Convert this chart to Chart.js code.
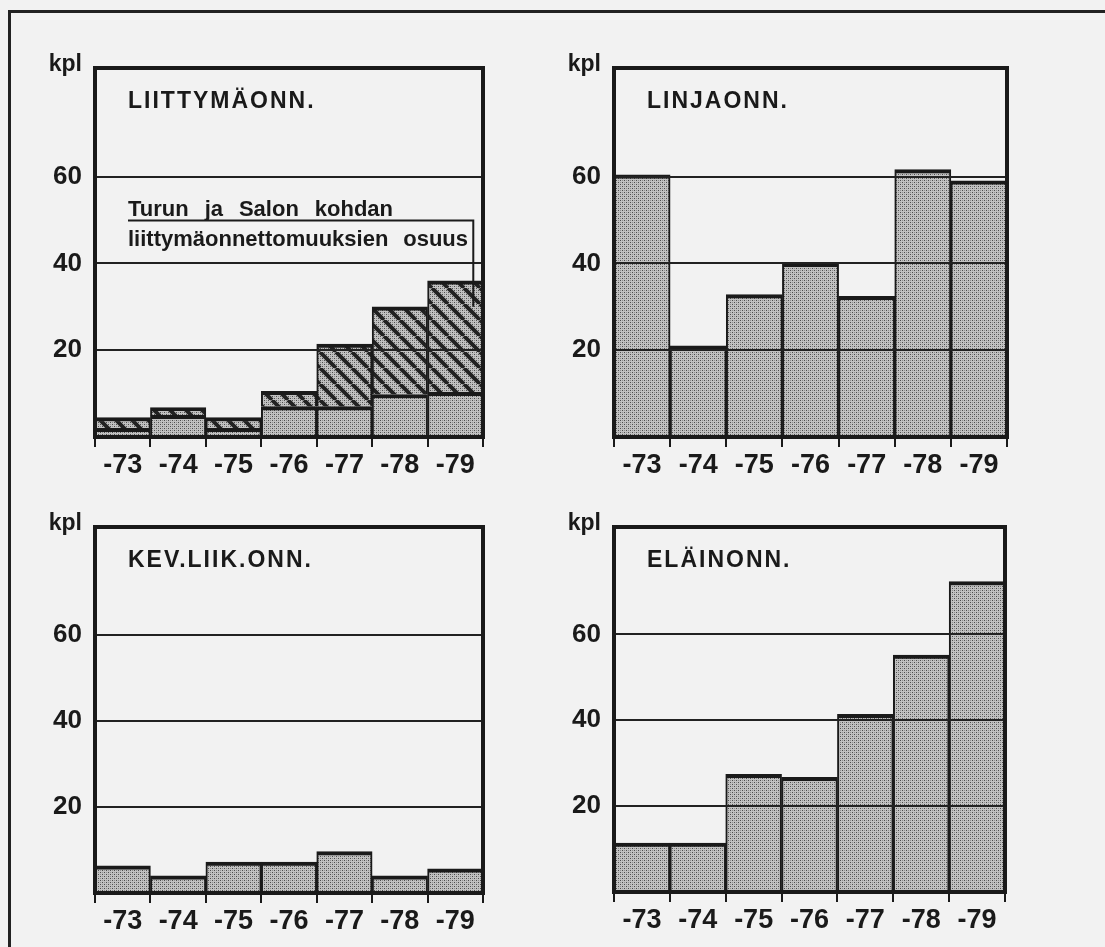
<!DOCTYPE html>
<html>
<head>
<meta charset="utf-8">
<script src="https://cdn.jsdelivr.net/npm/chart.js@4/dist/chart.umd.min.js"></script>
<style>
  html, body { margin: 0; padding: 0; background: #f2f2f2; }
  #page { position: relative; width: 1105px; height: 947px; overflow: hidden; }
  #frame { position: absolute; left: 8px; top: 10px; width: 1110px; height: 960px;
           border-top: 3px solid #222; border-left: 3px solid #222; }
  canvas { position: absolute; }
</style>
</head>
<body>
<div id="page">
  <div id="frame"></div>
  <canvas id="c1" width="540" height="480" style="left:0;top:0"></canvas>
  <canvas id="c2" width="565" height="480" style="left:540px;top:0"></canvas>
  <canvas id="c3" width="540" height="487" style="left:0;top:460px"></canvas>
  <canvas id="c4" width="565" height="487" style="left:540px;top:460px"></canvas>
</div>
<script>
const years = ['-73', '-74', '-75', '-76', '-77', '-78', '-79'];
const yTicks = [20, 40, 60];

// liittymäonnettomuudet: muut + Turun ja Salon kohdan osuus (pinottu)
const liittymaMuut = [2, 5, 2, 7, 7, 9.8, 10.3];
const liittymaTurkuSalo = [2.5, 1.8, 2.5, 3.5, 14.4, 20.2, 25.7];
const linja = [60.4, 21, 32.8, 40, 32.4, 61.6, 59];
const kevLiik = [6.3, 4, 7.2, 7.2, 9.6, 4, 5.6];
const elain = [11.4, 11.4, 27.4, 26.7, 41.4, 55.2, 72.3];

const FONT = "'Liberation Sans', Arial, sans-serif";
const INK = '#1a1a1a';

function stipple() {
    const c = document.createElement('canvas');
    c.width = 4; c.height = 4;
    const g = c.getContext('2d');
    g.fillStyle = '#c2c2c2';
    g.fillRect(0, 0, 4, 4);
    g.fillStyle = '#4d4d4d';
    g.fillRect(0, 0, 1, 1);
    g.fillRect(2, 2, 1, 1);
    g.fillStyle = '#8f8f8f';
    g.fillRect(2, 0, 1, 1);
    g.fillRect(0, 2, 1, 1);
    return g.createPattern(c, 'repeat');
}

function hatch() {
    const s = 16;
    const c = document.createElement('canvas');
    c.width = s; c.height = s;
    const g = c.getContext('2d');
    g.fillStyle = stipple();
    g.fillRect(0, 0, s, s);
    g.strokeStyle = '#222';
    g.lineWidth = 4;
    [-s, 0, s].forEach(k => {
        g.beginPath();
        g.moveTo(k, 0);
        g.lineTo(k + s, s);
        g.stroke();
    });
    return g.createPattern(c, 'repeat');
}

function justify(ctx, text, x0, x1, y) {
    const words = text.split(' ');
    const widths = words.map(w => ctx.measureText(w).width);
    const total = widths.reduce((a, b) => a + b, 0);
    const gap = words.length > 1 ? (x1 - x0 - total) / (words.length - 1) : 0;
    let x = x0;
    words.forEach((w, i) => {
        ctx.fillText(w, x, y);
        x += widths[i] + gap;
    });
}

const panelText = {
    id: 'panelText',
    afterDraw(chart, args, opts) {
        const ctx = chart.ctx;
        const a = chart.chartArea;
        ctx.save();
        ctx.strokeStyle = INK;
        ctx.lineWidth = 4;
        ctx.strokeRect(a.left, a.top, a.right - a.left, a.bottom - a.top);

        ctx.fillStyle = INK;
        ctx.textAlign = 'right';
        ctx.textBaseline = 'alphabetic';
        ctx.font = 'bold 23px ' + FONT;
        ctx.fillText('kpl', a.left - 13, a.top + 3);

        ctx.textAlign = 'left';
        ctx.letterSpacing = '2px';
        ctx.fillText(opts.title, a.left + 33, a.top + 40);
        ctx.letterSpacing = '0px';

        if (opts.note) {
            const y = chart.scales.y;
            const x = chart.scales.x;
            const left = a.left + 33;
            ctx.font = 'bold 22px ' + FONT;
            const b1 = y.getPixelForValue(51);
            const b2 = y.getPixelForValue(43.9);
            justify(ctx, opts.note[0], left, left + 265, b1);
            justify(ctx, opts.note[1], left, left + 340, b2);
            const lx = x.getPixelForValue(6) + 18;
            ctx.strokeStyle = INK;
            ctx.lineWidth = 2;
            ctx.beginPath();
            ctx.moveTo(left, b1 + 5);
            ctx.lineTo(lx, b1 + 5);
            ctx.lineTo(lx, y.getPixelForValue(30));
            ctx.stroke();
        }
        ctx.restore();
    }
};

function makePanel(canvasId, title, datasets, pad, note) {
    const canvas = document.getElementById(canvasId);
    if (!canvas) return;

    new Chart(canvas.getContext('2d'), {
        type: 'bar',
        data: {
            labels: years,
            datasets: datasets.map(d => Object.assign({
                borderColor: INK,
                borderWidth: { top: 4, left: 2, right: 2, bottom: 0 },
                borderSkipped: false,
                categoryPercentage: 1,
                barPercentage: 1
            }, d))
        },
        options: {
            responsive: false,
            animation: false,
            events: [],
            layout: { padding: pad },
            plugins: {
                legend: { display: false },
                tooltip: { enabled: false },
                panelText: { title, note }
            },
            scales: {
                x: {
                    stacked: true,
                    offset: true,
                    border: { display: false },
                    grid: {
                        offset: true,
                        drawOnChartArea: false,
                        drawTicks: true,
                        tickLength: 10,
                        color: INK,
                        lineWidth: 2
                    },
                    ticks: {
                        color: INK,
                        padding: 2,
                        font: { family: FONT, size: 27, weight: 'bold' }
                    },
                    afterFit: s => { s.height = 40; }
                },
                y: {
                    stacked: true,
                    min: 0,
                    max: 85,
                    border: { display: false },
                    afterBuildTicks: s => { s.ticks = yTicks.map(v => ({ value: v })); },
                    grid: {
                        drawTicks: false,
                        color: '#222',
                        lineWidth: 2,
                        z: 1
                    },
                    ticks: {
                        color: INK,
                        padding: 13,
                        font: { family: FONT, size: 26, weight: 'bold' }
                    },
                    afterFit: s => { s.width = 60; }
                }
            }
        },
        plugins: [panelText]
    });
}

const dots = stipple();
const lines = hatch();

makePanel('c1', 'LIITTYMÄONN.', [
    { data: liittymaMuut, backgroundColor: dots },
    { data: liittymaTurkuSalo, backgroundColor: lines }
], { left: 35, right: 57, top: 68, bottom: 3 },
['Turun ja Salon kohdan', 'liittymäonnettomuuksien osuus']);

makePanel('c2', 'LINJAONN.', [
    { data: linja, backgroundColor: dots }
], { left: 14, right: 98, top: 68, bottom: 3 });

makePanel('c3', 'KEV.LIIK.ONN.', [
    { data: kevLiik, backgroundColor: dots }
], { left: 35, right: 57, top: 67, bottom: 14 });

makePanel('c4', 'ELÄINONN.', [
    { data: elain, backgroundColor: dots }
], { left: 14, right: 100, top: 67, bottom: 15 });
</script>
</body>
</html>
